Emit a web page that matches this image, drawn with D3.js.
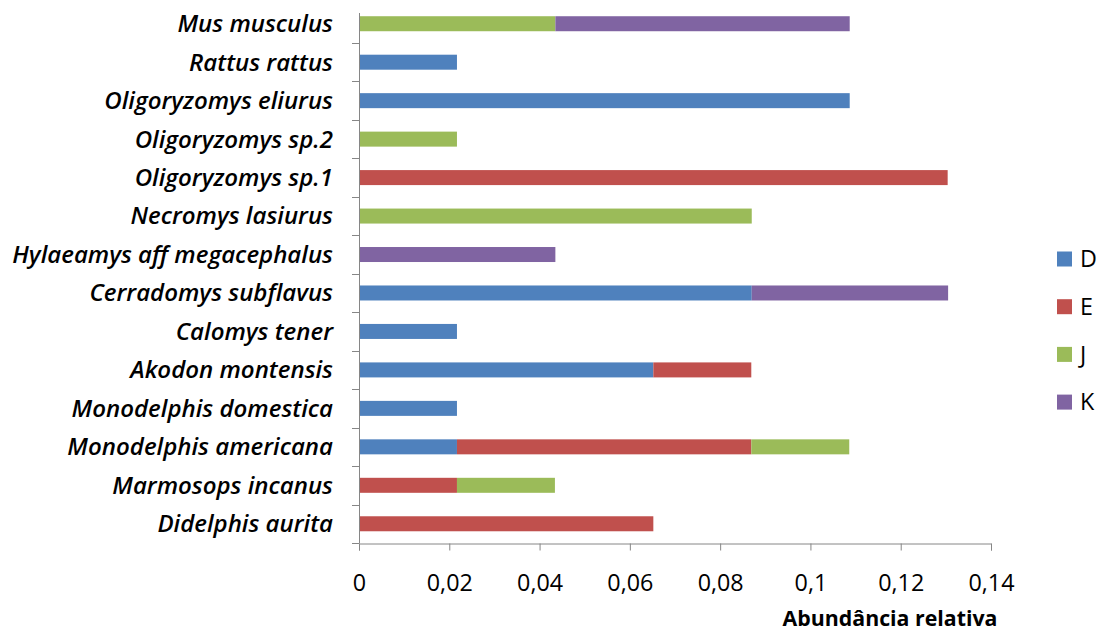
<!DOCTYPE html>
<html><head><meta charset="utf-8">
<script src="https://cdn.jsdelivr.net/npm/d3@7"></script>
<style>body{margin:0;background:#fff;} svg{display:block;}</style>
</head><body>
<script>
const species = ["Mus musculus","Rattus rattus","Oligoryzomys eliurus","Oligoryzomys sp.2","Oligoryzomys sp.1","Necromys lasiurus","Hylaeamys aff megacephalus","Cerradomys subflavus","Calomys tener","Akodon montensis","Monodelphis domestica","Monodelphis americana","Marmosops incanus","Didelphis aurita"];
const seriesNames = ["D","E","J","K"];
const D = [0,0.0217,0.1087,0,0,0,0,0.087,0.0217,0.0652,0.0217,0.0217,0,0];
const E = [0,0,0,0,0.1304,0,0,0,0,0.0217,0,0.0652,0.0217,0.0652];
const J = [0.0435,0,0,0.0217,0,0.087,0,0,0,0,0,0.0217,0.0217,0];
const K = [0.0652,0,0,0,0,0,0.0435,0.0435,0,0,0,0,0,0];
const xTicks = [0,0.02,0.04,0.06,0.08,0.1,0.12,0.14];
const colors = ["#4F81BD","#C0504D","#9BBB59","#8064A2"];

const FONT="'Open Sans', Lato, sans-serif";
const W=1100,H=634;
const svg=d3.select("body").append("svg").attr("width",W).attr("height",H);
const x=d3.scaleLinear().domain([0,0.14]).range([359,991]);
const yb=d3.scaleBand().domain(species).range([4.5,543]);

function fitSize(text, attrs, target){
  const t=svg.append("text").attr("font-family",FONT).attr("font-size",20);
  Object.entries(attrs).forEach(([k,v])=>t.attr(k,v));
  t.text(text);
  const w=t.node().getComputedTextLength();
  t.remove();
  return 20*target/w;
}

const rows=species.map((s,i)=>({s,D:D[i],E:E[i],J:J[i],K:K[i]}));
const stack=d3.stack().keys(seriesNames)(rows);
const g=svg.append("g");
stack.forEach((layer,li)=>{
  g.selectAll(null).data(layer.filter(d=>d[1]-d[0]>0)).enter().append("rect")
   .attr("x",d=>x(d[0])).attr("width",d=>x(d[1])-x(d[0]))
   .attr("y",d=>yb(d.data.s)+yb.bandwidth()/2-7.5).attr("height",15)
   .attr("fill",colors[li]);
});

const axisColor="#868686";
svg.append("line").attr("x1",359.5).attr("x2",359.5).attr("y1",13).attr("y2",543.5).attr("stroke",axisColor);
species.forEach((s,i)=>{ if(i>0){ const yy=Math.round(yb(s))+0.5;
  svg.append("line").attr("x1",352).attr("x2",359).attr("y1",yy).attr("y2",yy).attr("stroke",axisColor);}});
svg.append("line").attr("x1",352).attr("x2",359).attr("y1",543.5).attr("y2",543.5).attr("stroke",axisColor);

const labAttrs={"font-style":"italic","font-weight":600};
const labSize=fitSize("Hylaeamys aff megacephalus",labAttrs,321);
svg.selectAll(null).data(species).enter().append("text")
  .attr("x",333).attr("y",d=>yb(d)+yb.bandwidth()/2).attr("dy","0.35em")
  .attr("text-anchor","end").attr("font-family",FONT)
  .attr("font-style","italic").attr("font-weight",600).attr("font-size",labSize).attr("fill","#000")
  .text(d=>d);

const tickSize=fitSize("0,14",{},46);
const xa=svg.append("g").attr("transform","translate(0,543.5)")
  .call(d3.axisBottom(x).tickValues(xTicks).tickSize(7).tickPadding(24)
  .tickFormat(d=>d3.format("~g")(d).replace(".",",")));
xa.select(".domain").attr("stroke",axisColor);
xa.selectAll(".tick line").attr("stroke",axisColor);
xa.selectAll(".tick text").attr("font-family",FONT).attr("font-size",tickSize).attr("fill","#000");

const titleSize=fitSize("Abundância relativa",{"font-weight":"bold"},215);
svg.append("text").attr("x",890).attr("y",626).attr("text-anchor","middle")
  .attr("font-family",FONT).attr("font-weight","bold").attr("font-size",titleSize)
  .text("Abundância relativa");

const lg=svg.append("g");
seriesNames.forEach((n,i)=>{
  const cy=259+i*47.7;
  lg.append("rect").attr("x",1057).attr("y",cy-7.5).attr("width",15).attr("height",15).attr("fill",colors[i]);
  lg.append("text").attr("x",1080).attr("y",cy).attr("dy","0.35em")
    .attr("font-family",FONT).attr("font-size",tickSize).text(n);
});
</script>
</body></html>
